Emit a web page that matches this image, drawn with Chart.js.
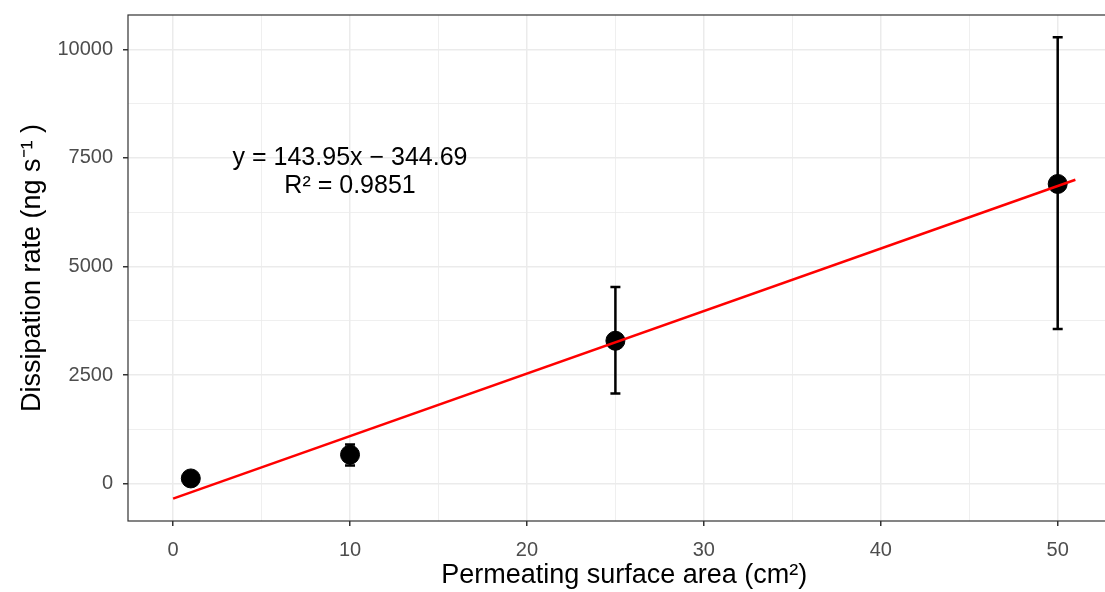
<!DOCTYPE html>
<html>
<head>
<meta charset="utf-8">
<script src="https://cdn.jsdelivr.net/npm/chart.js@4"></script>
<style>
  html, body { margin: 0; padding: 0; background: #fff; overflow: hidden; }
  #wrap { width: 1131px; height: 592px; }
</style>
</head>
<body>
<div id="wrap"><canvas id="myChart" width="1131" height="592"></canvas></div>
<script>
// Datos

const areas = [1, 10, 25, 50];
const rates = [120, 667, 3290, 6900];
const errLow = [60, 420, 2075, 3560];
const errHigh = [180, 900, 4530, 10280];

// Recta de ajuste (extremos)
const fitX = [0, 51];
const fitY = [-345, 6997];

const xMajor = [0, 10, 20, 30, 40, 50];
const xTicks = [0, 5, 10, 15, 20, 25, 30, 35, 40, 45, 50];
const yMajor = [0, 2500, 5000, 7500, 10000];
const yTicks = [0, 1250, 2500, 3750, 5000, 6250, 7500, 8750, 10000];

const eqText = ["y = 143.95x \u2212 344.69", "R\u00B2 = 0.9851"];
const eqPos = { x: 10, y: 7500 };

const fuente = "'Liberation Sans', Arial, sans-serif";
const ctx = document.getElementById('myChart').getContext('2d');

// Plugin: barras de error, borde del panel y texto de la ecuacion

const extras = {
    id: 'extras',
    beforeDatasetsDraw(chart) {
        const c = chart.ctx, x = chart.scales.x, y = chart.scales.y;
        c.save();
        c.strokeStyle = '#000';
        c.lineWidth = 2.5;
        for (let i = 0; i < areas.length; i++) {
            const px = x.getPixelForValue(areas[i]);
            const lo = y.getPixelForValue(errLow[i]);
            const hi = y.getPixelForValue(errHigh[i]);
            c.beginPath();
            c.moveTo(px, lo); c.lineTo(px, hi);
            c.moveTo(px - 5, lo); c.lineTo(px + 5, lo);
            c.moveTo(px - 5, hi); c.lineTo(px + 5, hi);
            c.stroke();
        }
        c.restore();
    },
    afterDraw(chart) {
        const c = chart.ctx, a = chart.chartArea, x = chart.scales.x, y = chart.scales.y;
        c.save();
        c.strokeStyle = '#333333';
        c.lineWidth = 1.2;
        c.strokeRect(a.left, a.top, a.right - a.left, a.bottom - a.top);
        c.fillStyle = '#000';
        c.font = "25px " + fuente;
        c.textAlign = 'center';
        c.textBaseline = 'middle';
        const px = x.getPixelForValue(eqPos.x);
        const py = y.getPixelForValue(eqPos.y);
        eqText.forEach((t, i) => c.fillText(t, px, py + i * 28));
        c.restore();
    }
};

const myChart = new Chart(ctx, {
    data: {
        datasets: [
            {
                type: 'line',
                data: fitX.map((v, i) => ({ x: v, y: fitY[i] })),
                borderColor: '#FF0000',
                borderWidth: 2.5,
                pointRadius: 0,
                fill: false,
                order: 0
            },
            {
                type: 'scatter',
                data: areas.map((v, i) => ({ x: v, y: rates[i] })),
                backgroundColor: '#000',
                borderColor: '#000',
                pointRadius: 9.5,
                order: 1
            }
        ]
    },
    options: {
        responsive: false,
        animation: false,
        layout: { padding: { top: 15, right: 5, left: 0, bottom: 0 } },
        plugins: { legend: { display: false }, tooltip: { enabled: false } },
        scales: {
            x: {
                type: 'linear',
                min: -2.55,
                max: 53.55,
                afterBuildTicks: (s) => { s.ticks = xTicks.map(v => ({ value: v })); },
                afterFit: (s) => { s.height = 71; },
                border: { display: false },
                grid: {
                    color: '#EBEBEB',
                    lineWidth: (c) => xMajor.includes(c.tick.value) ? 1.5 : 0.8,
                    tickColor: (c) => xMajor.includes(c.tick.value) ? '#333333' : 'rgba(0,0,0,0)',
                    tickLength: 5
                },
                ticks: {
                    color: '#4D4D4D',
                    font: { family: fuente, size: 20 },
                    padding: 12,
                    maxRotation: 0,
                    callback: (v) => xMajor.includes(v) ? String(v) : ''
                },
                title: {
                    display: true,
                    text: 'Permeating surface area (cm\u00B2)',
                    color: '#000',
                    font: { family: fuente, size: 27 },
                    padding: { top: 0, bottom: 0 }
                }
            },
            y: {
                type: 'linear',
                min: -860,
                max: 10790,
                afterBuildTicks: (s) => { s.ticks = yTicks.map(v => ({ value: v })); },
                afterFit: (s) => { s.width = 128; s.paddingTop = 0; s.paddingBottom = 0; },
                border: { display: false },
                grid: {
                    color: '#EBEBEB',
                    lineWidth: (c) => yMajor.includes(c.tick.value) ? 1.5 : 0.8,
                    tickColor: (c) => yMajor.includes(c.tick.value) ? '#333333' : 'rgba(0,0,0,0)',
                    tickLength: 5
                },
                ticks: {
                    color: '#4D4D4D',
                    font: { family: fuente, size: 20 },
                    padding: 10,
                    callback: (v) => yMajor.includes(v) ? String(v) : ''
                },
                title: {
                    display: true,
                    text: 'Dissipation rate (ng s\u207B\u00B9 )',
                    color: '#000',
                    font: { family: fuente, size: 27 },
                    padding: { top: 16, bottom: 0 }
                }
            }
        }
    },
    plugins: [extras]
});
</script>
</body>
</html>
